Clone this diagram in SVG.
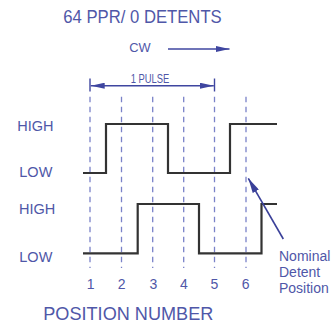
<svg xmlns="http://www.w3.org/2000/svg" width="331" height="324" viewBox="0 0 331 324">
<style>
.t{font-family:"Liberation Sans",Arial,sans-serif;fill:#4f57a8}
.d{stroke:#7a82c8;stroke-width:1.3;stroke-dasharray:5.5 4.5;fill:none}
.w{stroke:#333;stroke-width:2.2;fill:none;stroke-linejoin:miter}
.b{stroke:#3f46a0;stroke-width:1.4;fill:none}
</style>
<defs>
<marker id="ah" viewBox="0 0 14 6" refX="14" refY="3" markerWidth="14" markerHeight="6" markerUnits="userSpaceOnUse" orient="auto-start-reverse">
<path d="M0,0 L14,3 L0,6 Z" fill="#3f46a0"/>
</marker>
<marker id="ah2" viewBox="0 0 15 7" refX="15" refY="3.5" markerWidth="15" markerHeight="7" markerUnits="userSpaceOnUse" orient="auto">
<path d="M0,0 L15,3.5 L0,7 Z" fill="#3a4099"/>
</marker>
</defs>
<g id="title"><text class="t" x="63.3" y="22.7" font-size="17.5" textLength="158.4" lengthAdjust="spacingAndGlyphs">64 PPR/ 0 DETENTS</text></g>
<g id="cw"><text class="t" x="129.3" y="52.3" font-size="13" textLength="21.4" lengthAdjust="spacingAndGlyphs">CW</text></g>
<g id="pulse"><text class="t" x="130.7" y="82.5" font-size="13.5" textLength="38.6" lengthAdjust="spacingAndGlyphs">1 PULSE</text></g>
<g id="labels">
<text class="t" x="17.3" y="130.7" font-size="14.5">HIGH</text>
<text class="t" x="19.3" y="176.7" font-size="14.5">LOW</text>
<text class="t" x="19" y="214.3" font-size="14.5">HIGH</text>
<text class="t" x="19.3" y="261.7" font-size="14.5">LOW</text>
</g>
<g id="numbers" text-anchor="middle">
<text class="t" x="90.7" y="288.5" font-size="14">1</text>
<text class="t" x="121.7" y="288.5" font-size="14">2</text>
<text class="t" x="153.3" y="288.5" font-size="14">3</text>
<text class="t" x="184" y="288.5" font-size="14">4</text>
<text class="t" x="214.3" y="288.5" font-size="14">5</text>
<text class="t" x="245.7" y="288.5" font-size="14">6</text>
</g>
<g id="axis"><text class="t" x="43.3" y="320" font-size="19" textLength="170" lengthAdjust="spacingAndGlyphs">POSITION NUMBER</text></g>
<g id="note">
<text class="t" x="279" y="260.7" font-size="14">Nominal</text>
<text class="t" x="279" y="277" font-size="14">Detent</text>
<text class="t" x="279" y="293" font-size="14">Position</text>
</g>
<g id="connectors">
<line class="d" x1="90" y1="96.7" x2="90" y2="268"/>
<line class="d" x1="121.5" y1="96.7" x2="121.5" y2="268"/>
<line class="d" x1="152.7" y1="96.7" x2="152.7" y2="268"/>
<line class="d" x1="183.7" y1="96.7" x2="183.7" y2="268"/>
<line class="d" x1="214.5" y1="96.7" x2="214.5" y2="268"/>
<line class="d" x1="246" y1="96.7" x2="246" y2="268"/>
<line class="b" x1="168" y1="49" x2="229.5" y2="49" marker-end="url(#ah)"/>
<line class="b" x1="90" y1="78.5" x2="90" y2="91.5"/>
<line class="b" x1="214.5" y1="78.5" x2="214.5" y2="91.5"/>
<line class="b" x1="90.7" y1="85.7" x2="213.8" y2="85.7" marker-start="url(#ah)" marker-end="url(#ah)"/>
<path class="w" d="M83,173 H106 V124 H168 V173 H230 V124 H277"/>
<path class="w" d="M83,253.3 H137.7 V204 H199 V253.3 H261.5 V204 H277"/>
<line x1="283.3" y1="239" x2="248.3" y2="178.3" stroke="#3a4099" stroke-width="1.6" marker-end="url(#ah2)"/>
</g>
</svg>
